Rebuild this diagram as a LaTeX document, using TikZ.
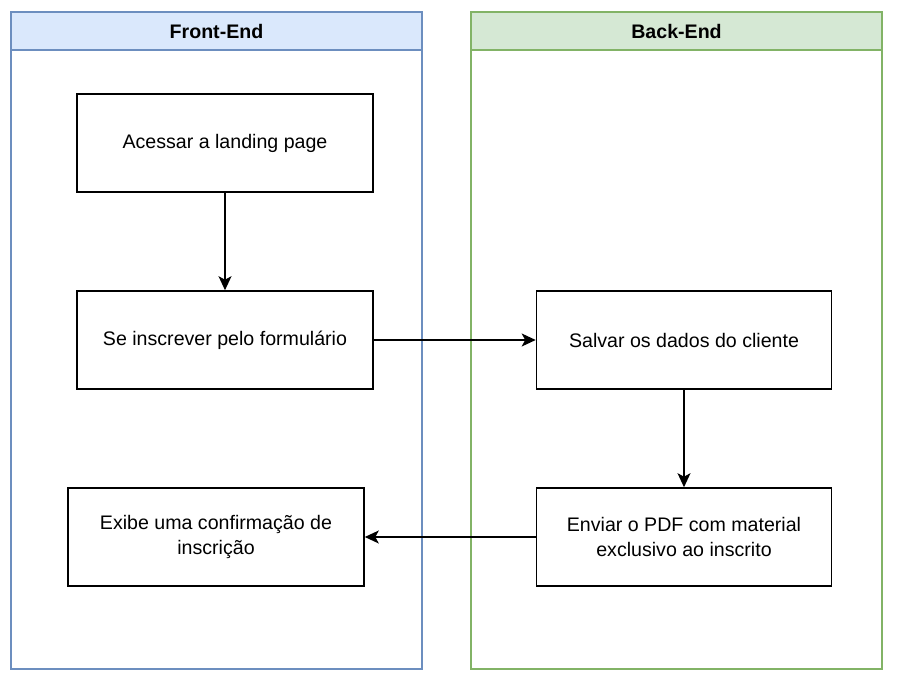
\documentclass[tikz,border=0pt]{standalone}
\usepackage{fontspec}
\setmainfont{Liberation Sans}
\usetikzlibrary{arrows.meta}
\definecolor{laneblueFill}{HTML}{DAE8FC}
\definecolor{laneblueLine}{HTML}{6C8EBF}
\definecolor{lanegreenFill}{HTML}{D5E8D4}
\definecolor{lanegreenLine}{HTML}{82B366}
\begin{document}
\begin{tikzpicture}[x=1pt,y=-1pt,
  stepbox/.style={draw=black,line width=1.6pt,fill=white,minimum width=296pt,minimum height=98pt,
    inner sep=0pt,align=center,font=\fontsize{19.6}{24.5}\selectfont},
  lanetitle/.style={font=\fontsize{19.6}{24}\selectfont\bfseries},
  conn/.style={line width=1.4pt,-{Stealth[length=14pt,width=13pt,inset=3.5pt]}}]
\useasboundingbox (0,0) rectangle (897,682);
\fill[white] (0,0) rectangle (897,682);
% Front-End lane
\draw[laneblueLine,line width=1.3pt] (11,12) rectangle (422,669);
\filldraw[fill=laneblueFill,draw=laneblueLine,line width=1.3pt] (11,12) rectangle (422,50);
\node[lanetitle] (fe) at (216.5,31.5) {Front-End};
% Back-End lane
\draw[lanegreenLine,line width=1.3pt] (471,12) rectangle (882,669);
\filldraw[fill=lanegreenFill,draw=lanegreenLine,line width=1.3pt] (471,12) rectangle (882,50);
\node[lanetitle] (be) at (676.5,31.5) {Back-End};
% steps
\node[stepbox] (a) at (225,143) {Acessar a landing page};
\node[stepbox] (b) at (225,340) {Se inscrever pelo formulário};
\node[stepbox] (c) at (216,537) {Exibe uma confirmação de\\inscrição};
\node[stepbox,minimum width=295pt] (d) at (684,340) {Salvar os dados do cliente};
\node[stepbox,minimum width=295pt] (e) at (684,537) {Enviar o PDF com material\\exclusivo ao inscrito};
% connectors
\draw[conn] (a) -- (b);
\draw[conn] (b) -- (d);
\draw[conn] (d) -- (e);
\draw[conn] (e) -- (c);
\end{tikzpicture}
\end{document}
